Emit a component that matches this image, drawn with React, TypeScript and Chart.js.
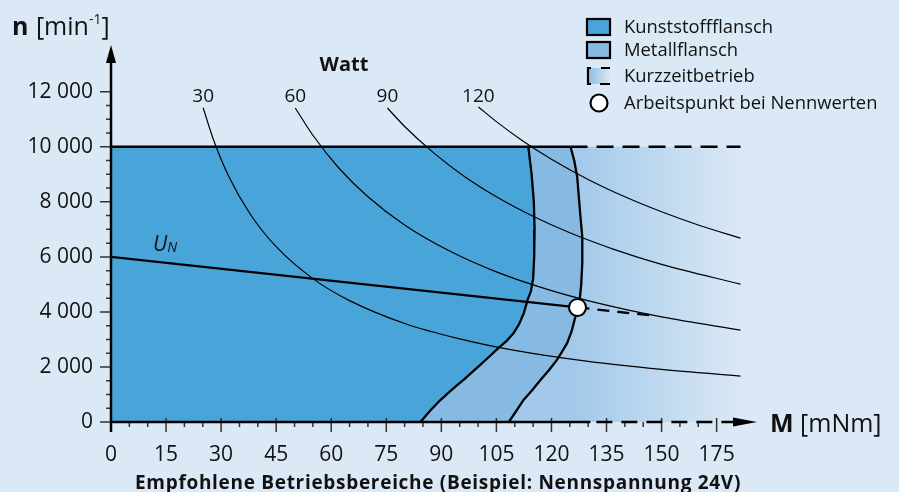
import React, { useEffect, useRef } from 'react';
import { Chart, registerables } from 'chart.js';

Chart.register(...registerables);

const FONT = "'Open Sans', 'Noto Sans', sans-serif";
const BG = '#dbe8f5';
const KUNST_COLOR = '#49a4d9';
const METALL_COLOR = '#86bae3';
const GRAD_START = '#a2c9ea';
const INK = '#111111';

// Axis ticks
const xTicks = [0, 15, 30, 45, 60, 75, 90, 105, 120, 135, 150, 165];
const xTickLabels = ['0', '15', '30', '45', '60', '75', '90', '105', '120', '135', '150', '175'];
const yTicks = [0, 2000, 4000, 6000, 8000, 10000, 12000];
const yTickLabels = ['0', '2 000', '4 000', '6 000', '8 000', '10 000', '12 000'];

// Boundary of Kunststoffflansch region (top to bottom)
const kunstM = [113.7, 114.6, 115.2, 115.4, 115.3, 115.0, 114.4, 113.5, 112.5, 111.2, 109.7, 107.8, 105.6, 103.1, 100.6, 98.4, 96.2, 94.0, 91.9, 89.6, 87.0, 84.3];
const kunstN = [10000, 9000, 8000, 7000, 6000, 5200, 4750, 4436, 3964, 3560, 3236, 2950, 2691, 2380, 2073, 1810, 1550, 1300, 1055, 780, 420, 0];

// Boundary of Metallflansch region (top to bottom)
const metallM = [125.2, 126.2, 127.0, 127.9, 128.4, 128.4, 128.1, 127.7, 127.1, 126.5, 125.5, 124.3, 122.9, 121.5, 119.3, 117.0, 114.8, 112.4, 110.4, 108.4];
const metallN = [10000, 9500, 8921, 7465, 6727, 5770, 5000, 4436, 4164, 3818, 3300, 2873, 2560, 2255, 1880, 1527, 1160, 800, 400, 0];

// Kurzzeitbetrieb zone extent
const shortTermM = [100, 172];
const maxSpeedN = 10000;
const topSolidM = [0, 125.2];
const topDashM = [125.2, 171.5];
const axisSolidEndM = 130.6;

// U_N line
const unM = [0, 127.1];
const unN = [6000, 4164];
const unExtM = [127.1, 148];
const unExtN = [4164, 3861];

// Working point
const workM = 127.1;
const workN = 4164;

// Power curves (Watt)
const wattLabels = ['30', '60', '90', '120'];
const watt30M = [25.1, 28, 32, 38, 45, 55, 65, 80, 95, 110, 130, 150, 171.5];
const watt30N = [11418, 10230, 8950, 7540, 6370, 5210, 4410, 3580, 3020, 2600, 2200, 1910, 1670];
const watt60M = [50.2, 55, 62, 70, 80, 92, 105, 120, 135, 150, 171.5];
const watt60N = [11410, 10420, 9240, 8185, 7160, 6230, 5455, 4775, 4245, 3820, 3340];
const watt90M = [75.3, 80, 88, 96, 105, 115, 125, 137, 150, 171.5];
const watt90N = [11410, 10740, 9770, 8950, 8185, 7475, 6875, 6275, 5730, 5010];
const watt120M = [100.1, 105, 112, 120, 130, 140, 150, 160, 171.5];
const watt120N = [11450, 10915, 10230, 9550, 8815, 8185, 7640, 7160, 6680];

const legendLabels = ['Kunststoffflansch', 'Metallflansch', 'Kurzzeitbetrieb', 'Arbeitspunkt bei Nennwerten'];

const pts = (ms: number[], ns: number[]) => ms.map((m, i) => ({ x: m, y: ns[i] }));

const wattCurves = [
  pts(watt30M, watt30N),
  pts(watt60M, watt60N),
  pts(watt90M, watt90N),
  pts(watt120M, watt120N),
];

const decorPlugin = {
  id: 'decor',
  beforeDraw(chart: any) {
    const { ctx, width, height } = chart;
    ctx.save();
    ctx.fillStyle = BG;
    ctx.fillRect(0, 0, width, height);
    ctx.restore();
  },
  afterDatasetsDraw(chart: any) {
    const { ctx } = chart;
    const x = chart.scales.x;
    const y = chart.scales.y;
    const x0 = x.getPixelForValue(0);
    const y0 = y.getPixelForValue(0);
    ctx.save();
    // ticks
    ctx.strokeStyle = '#333';
    ctx.lineWidth = 1.5;
    ctx.beginPath();
    for (let v = 0; v <= 165; v += 5) {
      const px = x.getPixelForValue(v);
      if (v % 15 === 0) {
        ctx.moveTo(px, y0 - 4);
        ctx.lineTo(px, y0 + 10);
      } else {
        ctx.moveTo(px, y0);
        ctx.lineTo(px, y0 + 5);
      }
    }
    for (let v = 0; v <= 12000; v += 500) {
      const py = y.getPixelForValue(v);
      if (v % 2000 === 0) {
        ctx.moveTo(x0 - 11, py);
        ctx.lineTo(x0, py);
      } else {
        ctx.moveTo(x0 - 5, py);
        ctx.lineTo(x0, py);
      }
    }
    ctx.stroke();

    // axes
    ctx.strokeStyle = '#000';
    ctx.fillStyle = '#000';
    ctx.lineWidth = 2.5;
    ctx.beginPath();
    ctx.moveTo(x0, y0 + 10);
    ctx.lineTo(x0, y.top + 14);
    ctx.stroke();
    ctx.beginPath();
    ctx.moveTo(x0, y.top);
    ctx.lineTo(x0 - 5, y.top + 18);
    ctx.lineTo(x0 + 5, y.top + 18);
    ctx.closePath();
    ctx.fill();

    const xs = x.getPixelForValue(axisSolidEndM);
    ctx.beginPath();
    ctx.moveTo(x0 - 1, y0);
    ctx.lineTo(xs, y0);
    ctx.stroke();
    ctx.setLineDash([16, 9]);
    ctx.beginPath();
    ctx.moveTo(xs + 6, y0);
    ctx.lineTo(x.right - 22, y0);
    ctx.stroke();
    ctx.setLineDash([]);
    ctx.beginPath();
    ctx.moveTo(x.right, y0);
    ctx.lineTo(x.right - 24, y0 - 4.5);
    ctx.lineTo(x.right - 24, y0 + 4.5);
    ctx.closePath();
    ctx.fill();
    ctx.restore();
  },
  afterDraw(chart: any) {
    const { ctx } = chart;
    const x = chart.scales.x;
    ctx.save();
    ctx.fillStyle = INK;
    ctx.textBaseline = 'alphabetic';
    ctx.textAlign = 'left';

    // y title
    let cx = 12;
    ctx.font = `bold 25px ${FONT}`;
    ctx.fillText('n', cx, 35);
    cx += ctx.measureText('n ').width + 1;
    ctx.font = `25px ${FONT}`;
    ctx.fillText('[min', cx, 35);
    cx += ctx.measureText('[min').width;
    ctx.font = `14px ${FONT}`;
    ctx.fillText('-1', cx, 24);
    cx += ctx.measureText('-1').width;
    ctx.font = `25px ${FONT}`;
    ctx.fillText(']', cx, 35);

    // x title
    cx = 770;
    ctx.font = `bold 25px ${FONT}`;
    ctx.fillText('M', cx, 432);
    cx += ctx.measureText('M ').width;
    ctx.font = `25px ${FONT}`;
    ctx.fillText('[mNm]', cx, 432);

    // bottom caption
    ctx.textAlign = 'center';
    ctx.font = `bold 19px ${FONT}`;
    (ctx as any).letterSpacing = '0.7px';
    ctx.fillText('Empfohlene Betriebsbereiche (Beispiel: Nennspannung 24V)', 438, 489);
    (ctx as any).letterSpacing = '0px';

    // Watt
    ctx.font = `bold 20px ${FONT}`;
    ctx.fillText('Watt', 344, 71);
    ctx.font = `19px ${FONT}`;
    wattCurves.forEach((c, i) => {
      ctx.fillText(wattLabels[i], x.getPixelForValue(c[0].x), 102);
    });

    // U_N
    ctx.textAlign = 'left';
    ctx.font = `italic 21px ${FONT}`;
    ctx.fillText('U', 153, 251);
    const uw = ctx.measureText('U').width;
    ctx.font = `italic 14px ${FONT}`;
    ctx.fillText('N', 153 + uw, 252);

    // legend
    const rows = [27, 50, 76, 103];
    const bx = 587;
    const bw = 23;
    const bh = 16;
    ctx.lineWidth = 2.2;
    ctx.strokeStyle = '#000';
    // row 1
    ctx.fillStyle = KUNST_COLOR;
    ctx.fillRect(bx, rows[0] - bh / 2, bw, bh);
    ctx.strokeRect(bx, rows[0] - bh / 2, bw, bh);
    // row 2
    ctx.fillStyle = METALL_COLOR;
    ctx.fillRect(bx, rows[1] - bh / 2, bw, bh);
    ctx.strokeRect(bx, rows[1] - bh / 2, bw, bh);
    // row 3
    const t3 = rows[2] - 8;
    const b3 = rows[2] + 8;
    const g = ctx.createLinearGradient(bx, 0, bx + bw, 0);
    g.addColorStop(0, METALL_COLOR);
    g.addColorStop(1, BG);
    ctx.fillStyle = g;
    ctx.fillRect(bx, t3, bw, b3 - t3);
    ctx.beginPath();
    ctx.moveTo(bx + 4, t3);
    ctx.lineTo(bx + 1, t3);
    ctx.lineTo(bx + 1, b3);
    ctx.lineTo(bx + 4, b3);
    ctx.moveTo(bx + 14, t3);
    ctx.lineTo(bx + bw, t3);
    ctx.moveTo(bx + 13, b3);
    ctx.lineTo(bx + bw, b3);
    ctx.stroke();
    // row 4
    ctx.beginPath();
    ctx.arc(bx + 12, rows[3], 8.5, 0, Math.PI * 2);
    ctx.fillStyle = '#fff';
    ctx.fill();
    ctx.stroke();

    ctx.fillStyle = INK;
    ctx.font = `18.4px ${FONT}`;
    ctx.textBaseline = 'middle';
    legendLabels.forEach((l, i) => ctx.fillText(l, 624, rows[i] + 1));
    ctx.restore();
  },
};

export default function App() {
  const ref = useRef<HTMLCanvasElement | null>(null);

  useEffect(() => {
    document.body.style.margin = '0';
    document.body.style.background = BG;
    if (!ref.current) return;

    const kunstPoly = [{ x: 0, y: 0 }, { x: 0, y: maxSpeedN }, ...pts(kunstM, kunstN)];
    const metallPoly = [{ x: 0, y: 0 }, { x: 0, y: maxSpeedN }, ...pts(metallM, metallN)];
    const gradPoly = [
      { x: shortTermM[0], y: 0 },
      { x: shortTermM[0], y: maxSpeedN },
      { x: shortTermM[1], y: maxSpeedN },
      { x: shortTermM[1], y: 0 },
    ];

    const lineBase = {
      type: 'line',
      pointRadius: 0,
      pointHoverRadius: 0,
      fill: false,
      tension: 0,
      borderColor: '#000',
    };

    const datasets: any[] = [
      {
        ...lineBase,
        data: gradPoly,
        borderWidth: 0,
        fill: 'shape',
        order: 10,
        backgroundColor: (c: any) => {
          const chart = c.chart;
          if (!chart.chartArea) return GRAD_START;
          const xs = chart.scales.x;
          const gr = chart.ctx.createLinearGradient(xs.getPixelForValue(126), 0, xs.getPixelForValue(172), 0);
          gr.addColorStop(0, GRAD_START);
          gr.addColorStop(1, BG);
          return gr;
        },
      },
      { ...lineBase, data: metallPoly, borderWidth: 0, fill: 'shape', backgroundColor: METALL_COLOR, order: 9 },
      { ...lineBase, data: kunstPoly, borderWidth: 0, fill: 'shape', backgroundColor: KUNST_COLOR, order: 8 },
      ...wattCurves.map((c) => ({
        ...lineBase,
        data: c,
        borderWidth: 1.2,
        cubicInterpolationMode: 'monotone',
        order: 5,
      })),
      { ...lineBase, data: pts(kunstM, kunstN), borderWidth: 2.3, order: 3 },
      { ...lineBase, data: pts(metallM, metallN), borderWidth: 2.3, order: 3 },
      { ...lineBase, data: topSolidM.map((m) => ({ x: m, y: maxSpeedN })), borderWidth: 2.5, order: 3 },
      { ...lineBase, data: topDashM.map((m) => ({ x: m, y: maxSpeedN })), borderWidth: 2.5, borderDash: [17, 9], order: 3 },
      { ...lineBase, data: pts(unM, unN), borderWidth: 2.3, order: 2 },
      { ...lineBase, data: pts(unExtM, unExtN), borderWidth: 2.3, borderDash: [12, 8], order: 2 },
      {
        type: 'line',
        data: [{ x: workM, y: workN }],
        showLine: false,
        pointRadius: 8.5,
        pointHoverRadius: 8.5,
        pointBackgroundColor: '#fff',
        pointBorderColor: '#000',
        pointBorderWidth: 2,
        order: 0,
      },
    ];

    const chart = new Chart(ref.current, {
      type: 'line',
      data: { datasets },
      options: {
        responsive: false,
        animation: false,
        events: [],
        layout: { padding: { left: 0, top: 45, right: 142, bottom: 0 } },
        plugins: { legend: { display: false }, tooltip: { enabled: false } },
        scales: {
          x: {
            type: 'linear',
            min: 0,
            max: 176,
            afterBuildTicks: (s: any) => {
              s.ticks = xTicks.map((v) => ({ value: v }));
            },
            afterFit: (s: any) => {
              s.height = 70;
            },
            grid: { display: false, drawTicks: false },
            border: { display: false },
            ticks: {
              autoSkip: false,
              maxRotation: 0,
              padding: 20,
              color: INK,
              font: { family: FONT, size: 21 },
              callback: (_v: any, i: number) => xTickLabels[i],
            },
          },
          y: {
            type: 'linear',
            min: 0,
            max: 13700,
            afterBuildTicks: (s: any) => {
              s.ticks = yTicks.map((v) => ({ value: v }));
            },
            afterFit: (s: any) => {
              s.width = 111;
            },
            grid: { display: false, drawTicks: false },
            border: { display: false },
            ticks: {
              autoSkip: false,
              padding: 18,
              color: INK,
              font: { family: FONT, size: 21 },
              callback: (_v: any, i: number) => yTickLabels[i],
            },
          },
        },
      },
      plugins: [decorPlugin],
    } as any);

    return () => chart.destroy();
  }, []);

  return (
    <div style={{ width: 899, height: 492 }}>
      <canvas ref={ref} width={899} height={492} style={{ display: 'block' }} />
    </div>
  );
}
